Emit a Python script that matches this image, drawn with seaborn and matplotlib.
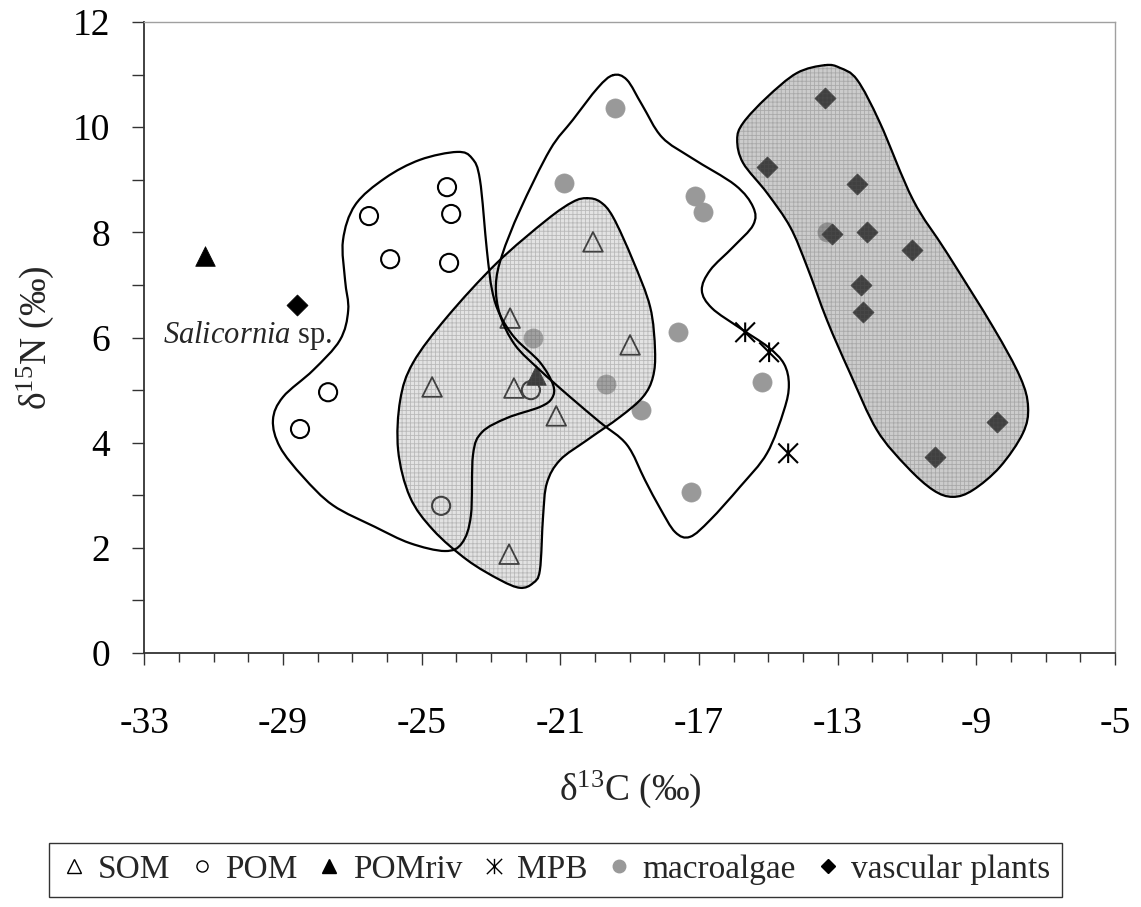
import numpy as np
import matplotlib
matplotlib.use("Agg")
import matplotlib.pyplot as plt
import seaborn as sns
from matplotlib.path import Path
from matplotlib.patches import PathPatch
from matplotlib.lines import Line2D
from matplotlib.ticker import MultipleLocator

# --- isotope values (d13C, d15N) ---
som_x = [-20.06, -22.45, -18.99, -24.70, -22.34, -21.12, -22.48]
som_y = [7.82, 6.37, 5.86, 5.06, 5.04, 4.51, 1.88]

pom_x = [-24.27, -24.15, -26.52, -25.91, -24.21, -27.70, -28.51, -24.44, -21.85]
pom_y = [8.86, 8.35, 8.31, 7.49, 7.42, 4.96, 4.26, 2.80, 5.00]

pomriv_x = [-31.25, -21.70]
pomriv_y = [7.55, 5.29]

mpb_x = [-15.67, -14.98, -14.43]
mpb_y = [6.10, 5.72, 3.80]

algae_x = [-19.43, -20.89, -17.12, -16.89, -21.79, -17.61, -19.68, -18.67, -17.23, -15.19, -13.30]
algae_y = [10.37, 8.94, 8.69, 8.39, 5.99, 6.10, 5.12, 4.62, 3.06, 5.15, 8.00]

vasc_x = [-13.37, -15.04, -12.45, -13.17, -12.17, -10.86, -12.33, -12.27, -8.41, -10.19, -28.60]
vasc_y = [10.56, 9.24, 8.92, 7.97, 8.01, 7.66, 7.00, 6.49, 4.39, 3.73, 6.62]

x_ticks = [-33, -29, -25, -21, -17, -13, -9, -5]
y_ticks = [0, 2, 4, 6, 8, 10, 12]

# --- hand-drawn group envelopes (data units) ---
pom_env_x = [-27.27, -26.92, -26.06, -25.05, -23.98, -23.55, -23.32, -23.12, -22.97, -22.74,
             -22.31, -21.59, -21.21, -21.24, -21.59, -22.54, -23.26, -23.52, -23.58, -23.84,
             -24.33, -25.34, -26.35, -27.56, -28.42, -29.09, -29.29, -29.00, -28.13, -27.36,
             -27.12, -27.21]
pom_env_y = [7.85, 8.52, 9.03, 9.38, 9.53, 9.41, 9.00, 7.66, 6.90, 6.43,
             5.99, 5.53, 5.10, 4.85, 4.68, 4.47, 4.20, 3.77, 2.62, 2.09,
             1.94, 2.09, 2.40, 2.81, 3.35, 3.92, 4.43, 4.87, 5.38, 5.95,
             6.52, 7.09]

som_env_x = [-20.23, -19.85, -19.48, -18.91, -18.41, -18.27, -18.33, -18.62, -19.28, -20.23,
             -21.01, -21.39, -21.50, -21.59, -21.79, -22.16, -22.74, -23.69, -24.67, -25.34,
             -25.68, -25.62, -25.25, -24.27, -22.83, -21.39, -20.64]
som_env_y = [8.65, 8.58, 8.29, 7.47, 6.58, 5.76, 5.25, 4.87, 4.49, 4.05,
             3.67, 3.23, 2.59, 1.58, 1.33, 1.24, 1.39, 1.77, 2.34, 2.97,
             3.86, 4.81, 5.52, 6.39, 7.42, 8.24, 8.58]

algae_env_x = [-19.48, -19.08, -18.64, -18.07, -17.20, -15.96, -15.44, -15.44, -16.02, -16.68,
               -16.92, -16.63, -15.82, -15.01, -14.55, -14.41, -14.55, -15.04, -15.82, -16.68,
               -17.26, -17.69, -18.13, -18.56, -19.08, -19.86, -20.72, -21.59, -22.31, -22.74,
               -22.86, -22.68, -22.16, -21.30, -20.64, -19.92]
algae_env_y = [10.99, 10.90, 10.42, 9.81, 9.41, 8.90, 8.48, 8.14, 7.72, 7.28,
               6.90, 6.56, 6.18, 5.82, 5.50, 5.10, 4.62, 3.80, 3.16, 2.53,
               2.21, 2.30, 2.76, 3.29, 3.96, 4.39, 4.87, 5.38, 5.86, 6.43,
               7.00, 7.57, 8.43, 9.57, 10.14, 10.75]

vasc_env_x = [-13.37, -12.94, -12.44, -11.78, -10.83, -9.85, -8.52, -7.74, -7.51, -7.66,
              -8.32, -9.10, -9.68, -10.25, -11.00, -11.87, -12.65, -13.31, -13.88, -14.37,
              -15.04, -15.73, -15.90, -15.73, -15.04, -14.18]
vasc_env_y = [11.18, 11.13, 10.90, 10.08, 8.62, 7.61, 6.20, 5.25, 4.68, 4.18,
              3.54, 3.10, 2.97, 3.10, 3.54, 4.24, 5.33, 6.33, 7.34, 8.10,
              8.75, 9.32, 9.76, 10.08, 10.57, 11.03]


def smooth_closed(xs, ys):
    """Closed Catmull-Rom curve through the points, as a cubic Bezier path."""
    p = np.column_stack([xs, ys])
    n = len(p)
    verts = [p[0]]
    codes = [Path.MOVETO]
    for i in range(n):
        p0, p1, p2, p3 = p[i - 1], p[i], p[(i + 1) % n], p[(i + 2) % n]
        verts += [p1 + (p2 - p0) / 6, p2 - (p3 - p1) / 6, p2]
        codes += [Path.CURVE4] * 3
    return Path(verts, codes)


sns.set_style("ticks")
plt.rcParams["font.family"] = ["Liberation Serif", "DejaVu Serif"]
plt.rcParams["mathtext.fontset"] = "custom"
plt.rcParams["mathtext.rm"] = "Liberation Serif"
plt.rcParams["mathtext.it"] = "Liberation Serif:italic"
plt.rcParams["axes.unicode_minus"] = False
plt.rcParams["hatch.linewidth"] = 0.6

fig = plt.figure(figsize=(11.41, 9.07), dpi=100)
ax = fig.add_axes([0.1265, 0.280, 0.8508, 0.6957])

# markers
sns.scatterplot(x=som_x, y=som_y, marker="^", s=200, fc="none", ec="black",
                linewidth=1.3, ax=ax, zorder=2)
sns.scatterplot(x=pom_x, y=pom_y, marker="o", s=170, fc="none", ec="black",
                linewidth=1.5, ax=ax, zorder=2)
sns.scatterplot(x=pomriv_x, y=pomriv_y, marker="^", s=200, color="black",
                ec="black", linewidth=0.5, ax=ax, zorder=2)
star = Path([(-1, -1), (1, 1), (-1, 1), (1, -1), (0, -1), (0, 1)],
            [Path.MOVETO, Path.LINETO, Path.MOVETO, Path.LINETO, Path.MOVETO, Path.LINETO])
sns.scatterplot(x=mpb_x, y=mpb_y, marker=star, s=200, fc="none", ec="black",
                linewidth=1.5, ax=ax, zorder=2)
sns.scatterplot(x=algae_x, y=algae_y, marker="o", s=190, color="#999999",
                ec="#999999", linewidth=0.5, ax=ax, zorder=2)
sns.scatterplot(x=vasc_x, y=vasc_y, marker="D", s=115, color="black",
                ec="black", linewidth=0.5, ax=ax, zorder=2)

# shaded envelopes drawn over the markers, outlines on top
shades = [(som_env_x, som_env_y, (0.69, 0.69, 0.69, 0.35)),
          (vasc_env_x, vasc_env_y, (0.56, 0.56, 0.56, 0.45))]
for ex, ey, fc in shades:
    ax.add_patch(PathPatch(smooth_closed(ex, ey), fc=fc, ec=(0.35, 0.35, 0.35, 0.3),
                           hatch="++++", lw=0, zorder=3))
for ex, ey in [(pom_env_x, pom_env_y), (som_env_x, som_env_y),
               (algae_env_x, algae_env_y), (vasc_env_x, vasc_env_y)]:
    ax.add_patch(PathPatch(smooth_closed(ex, ey), fill=False, ec="black", lw=1.6,
                           zorder=4, capstyle="round", joinstyle="round"))

ax.text(-32.46, 5.90, r"$\it{Salicornia}$ sp.", fontsize=22, ha="left", va="baseline")

# axes
ax.set_xlim(-33, -5)
ax.set_ylim(0, 12)
ax.set_xticks(x_ticks)
ax.set_yticks(y_ticks)
ax.xaxis.set_minor_locator(MultipleLocator(1))
ax.yaxis.set_minor_locator(MultipleLocator(1))
ax.tick_params(which="major", direction="out", length=8.5, width=1, color="#333333",
               labelsize=27, labelcolor="black")
ax.tick_params(axis="x", which="major", pad=30)
ax.tick_params(axis="y", which="major", pad=16)
ax.tick_params(axis="x", which="minor", direction="out", length=6.5, width=1, color="#333333")
ax.tick_params(axis="y", which="minor", direction="out", length=8.5, width=1, color="#333333")
for side in ["left", "bottom"]:
    ax.spines[side].set_color("#333333")
    ax.spines[side].set_linewidth(1.3)
for side in ["top", "right"]:
    ax.spines[side].set_color("#a0a0a0")
    ax.spines[side].set_linewidth(1)

ax.set_xlabel(r"δ$^{13}$C (‰)", fontsize=27, labelpad=20)
ax.set_ylabel(r"δ$^{15}$N (‰)", fontsize=27, labelpad=12)

handles = [
    Line2D([], [], ls="none", marker="^", ms=10, mfc="none", mec="black", mew=1),
    Line2D([], [], ls="none", marker="o", ms=8, mfc="none", mec="black", mew=1),
    Line2D([], [], ls="none", marker="^", ms=10, mfc="black", mec="black"),
    Line2D([], [], ls="none", marker=star, ms=11, mfc="none", mec="black", mew=1),
    Line2D([], [], ls="none", marker="o", ms=9, mfc="#999999", mec="#999999"),
    Line2D([], [], ls="none", marker="D", ms=7, mfc="black", mec="black"),
]
labels = ["SOM", "POM", "POMriv", "MPB", "macroalgae", "vascular plants"]
leg = fig.legend(handles, labels, loc="center", bbox_to_anchor=(0.487, 0.041), ncol=6,
                 frameon=True, fancybox=False, edgecolor="black", fontsize=24,
                 handlelength=0.8, handletextpad=0.3, columnspacing=0.55, borderpad=0.35)
leg.get_frame().set_linewidth(1)

fig.savefig("out.png", dpi=100)
